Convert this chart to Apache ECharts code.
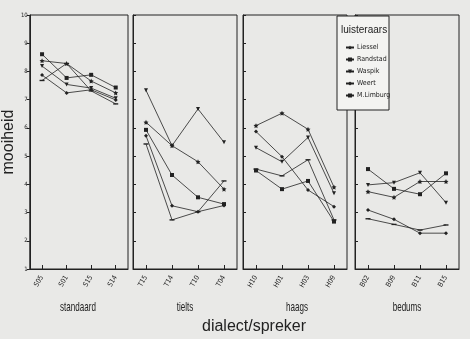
<!DOCTYPE html>
<html>
<head>
<meta charset="utf-8">
<script src="https://cdn.jsdelivr.net/npm/echarts@6/dist/echarts.min.js"></script>
<style>
  html, body { margin: 0; padding: 0; background: #e9e9e7; }
  #chart { width: 470px; height: 339px; }
</style>
</head>
<body>
<div id="chart"></div>
<script>
// Panels (dialect) and their speakers
const panelNames = ['standaard', 'tielts', 'haags', 'bedums'];
const standaardCats = ['S05', 'S01', 'S15', 'S14'];
const tieltsCats = ['T15', 'T14', 'T10', 'T04'];
const haagsCats = ['H10', 'H01', 'H03', 'H09'];
const bedumsCats = ['B02', 'B09', 'B11', 'B15'];
const panelCats = [standaardCats, tieltsCats, haagsCats, bedumsCats];

// Mean "mooiheid" per listener group, one row per panel
const liessel  = [[8.38, 8.28, 7.66, 7.24], [6.20, 5.37, 4.80, 3.83], [6.08, 6.52, 5.95, 3.90], [3.74, 3.54, 4.10, 4.10]];
const randstad = [[8.61, 7.77, 7.88, 7.43], [5.93, 4.33, 3.54, 3.30], [4.49, 3.83, 4.12, 2.68], [4.54, 3.84, 3.65, 4.39]];
const waspik   = [[8.19, 7.54, 7.41, 7.05], [7.33, 5.37, 6.67, 5.49], [5.30, 4.80, 5.66, 3.68], [3.98, 4.06, 4.41, 3.35]];
const weert    = [[7.87, 7.24, 7.35, 6.99], [5.72, 3.24, 3.03, 3.25], [5.87, 4.98, 3.80, 3.21], [3.09, 2.76, 2.27, 2.27]];
const mLimburg = [[7.68, 8.28, 7.31, 6.85], [5.43, 2.74, 3.03, 4.12], [4.54, 4.30, 4.87, 2.74], [2.78, 2.58, 2.38, 2.56]];

const yTicks = [1, 2, 3, 4, 5, 6, 7, 8, 9, 10];

const ink = '#222';
const narrow = "'Liberation Sans Narrow','DejaVu Sans Condensed','Liberation Sans',sans-serif";
const plain = "'Liberation Sans',Arial,sans-serif";

const groups = [
  { name: 'Liessel', data: liessel, symbol: 'path://M0,-10L2.9,-4L9.5,-3.1L4.7,1.5L5.9,8.1L0,5L-5.9,8.1L-4.7,1.5L-9.5,-3.1L-2.9,-4Z', size: 5, rotate: 0 },
  { name: 'Randstad', data: randstad, symbol: 'rect', size: 4, rotate: 0 },
  { name: 'Waspik', data: waspik, symbol: 'triangle', size: 4, rotate: 180 },
  { name: 'Weert', data: weert, symbol: 'diamond', size: 4, rotate: 0 },
  { name: 'M.Limburg', data: mLimburg, symbol: 'rect', size: [5, 1.4], rotate: 0 }
];

// Panel frames
const frames = [
  { left: 28, width: 100 },
  { left: 133, width: 104 },
  { left: 243, width: 104 },
  { left: 355, width: 104 }
];
const frameTop = 15, frameHeight = 254;

const grid = frames.map(f => ({
  left: f.left, width: f.width, top: frameTop, height: frameHeight,
  show: true, borderColor: ink, borderWidth: 1, backgroundColor: 'transparent'
}));

const xAxis = panelCats.map((cats, i) => ({
  type: 'category', gridIndex: i, data: cats, boundaryGap: true,
  axisLine: { lineStyle: { color: ink, width: 1 } },
  axisTick: { show: true, inside: true, length: 4, alignWithLabel: true, lineStyle: { color: ink } },
  axisLabel: { rotate: 60, fontSize: 7, fontFamily: narrow, color: ink, margin: 7, interval: 0 },
  splitLine: { show: false }
}));

const yAxis = panelCats.map((c, i) => ({
  type: 'value', gridIndex: i, min: 1, max: 10, interval: 1,
  name: i === 0 ? 'mooiheid' : '',
  nameLocation: 'middle', nameGap: 8,
  nameTextStyle: { fontSize: 16, fontFamily: plain, color: ink },
  axisLine: { show: true, lineStyle: { color: ink, width: 1 } },
  axisTick: { show: true, inside: i !== 0, length: 3, lineStyle: { color: ink } },
  axisLabel: { show: i === 0, fontSize: 6, fontFamily: narrow, color: ink, margin: 2,
               formatter: v => yTicks.includes(v) ? String(v) : '' },
  splitLine: { show: false }
}));

const series = [];
panelCats.forEach((c, p) => {
  groups.forEach(g => {
    series.push({
      type: 'line', name: g.name, xAxisIndex: p, yAxisIndex: p,
      data: g.data[p],
      symbol: g.symbol, symbolSize: g.size, symbolRotate: g.rotate,
      lineStyle: { color: ink, width: 0.8 },
      itemStyle: { color: ink },
      emphasis: { disabled: true },
      animation: false, z: 2
    });
  });
});

// Panel captions below each frame
const captionX = [78, 185, 297, 407];
const captions = panelNames.map((n, i) => ({
  type: 'text', x: captionX[i], y: 307, scaleX: 0.62,
  style: { text: n, fontSize: 13, fontFamily: plain, fill: ink, textAlign: 'center', textVerticalAlign: 'middle' }
}));

const option = {
  backgroundColor: '#e9e9e7',
  animation: false,
  grid, xAxis, yAxis, series,
  legend: {
    orient: 'vertical', left: 340, top: 39, itemWidth: 8, itemHeight: 5, itemGap: 5,
    data: groups.map(g => g.name), selectedMode: false, z: 20,
    textStyle: { fontSize: 7, fontFamily: narrow, color: ink, padding: [0, 0, 0, -2] }
  },
  graphic: [
    { type: 'rect', z: 10, shape: { x: 337, y: 16, width: 52, height: 94 },
      style: { fill: '#f3f3f1', stroke: ink, lineWidth: 1 } },
    { type: 'text', z: 21, x: 341, y: 30,
      style: { text: 'luisteraars', fontSize: 10, fontFamily: plain, fill: ink, textVerticalAlign: 'middle' } },
    { type: 'text', x: 254, y: 327,
      style: { text: 'dialect/spreker', fontSize: 16, fontFamily: plain, fill: ink, textAlign: 'center', textVerticalAlign: 'middle' } }
  ].concat(captions)
};

const chart = echarts.init(document.getElementById('chart'), null, { renderer: 'canvas' });
chart.setOption(option);
</script>
</body>
</html>
